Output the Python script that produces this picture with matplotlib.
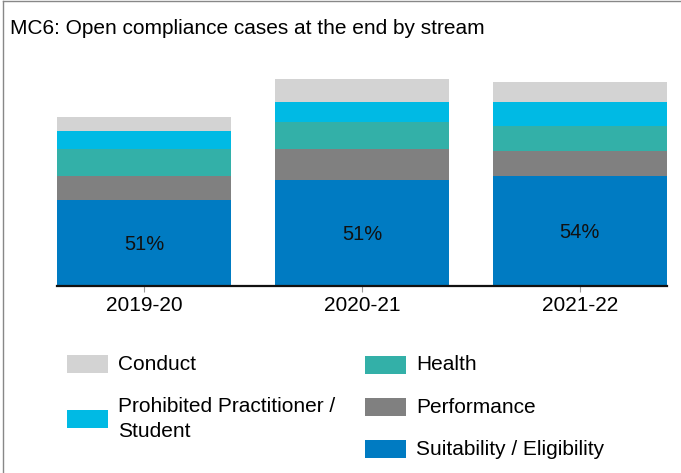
import matplotlib
matplotlib.use("Agg")
import matplotlib.pyplot as plt
from matplotlib.patches import Rectangle
from matplotlib.lines import Line2D
import numpy as np

plt.rcParams['font.family'] = ['Liberation Sans', 'DejaVu Sans']

years = ['2019-20', '2020-21', '2021-22']
suitability = [86, 106, 110]
performance = [24, 31, 25]
health = [27, 27, 25]
prohibited = [18, 20, 24]
conduct = [14, 23, 20]

streams = ['Suitability / Eligibility', 'Performance', 'Health',
           'Prohibited Practitioner /\nStudent', 'Conduct']
colours = ['#007bc2', '#808080', '#33b0a8', '#00bae4', '#d3d3d3']

W, H = 681, 473
fig = plt.figure(figsize=(W / 100, H / 100), dpi=100)
ax = fig.add_axes([57 / W, 1 - 286 / H, 610 / W, 226 / H])

x = np.arange(len(years))
bottom = np.zeros(len(years))
for vals, c in zip([suitability, performance, health, prohibited, conduct], colours):
    ax.bar(x, vals, width=0.8, bottom=bottom, color=c, linewidth=0)
    bottom += np.array(vals)

# share of suitability cases written in the blue block
totals = bottom
for i in x:
    pct = round(100 * suitability[i] / totals[i])
    ax.text(i, suitability[i] / 2 - 1, f'{pct}%', ha='center', va='center',
            fontsize=14.5, color='#111111')

ax.set_xlim(-0.4, 2.4)
ax.set_ylim(0, 226)
ax.set_xticks(x)
ax.set_xticklabels(years, fontsize=15)
ax.tick_params(axis='x', length=4, color='#999999', pad=3)
ax.set_yticks([])
for s in ['left', 'right', 'top']:
    ax.spines[s].set_visible(False)
ax.spines['bottom'].set_linewidth(1.6)
ax.spines['bottom'].set_color('#111111')

fig.text(10 / W, 1 - 29 / H, 'MC6: Open compliance cases at the end by stream',
         fontsize=15, va='center', ha='left')

# legend laid out in two columns
legend_items = [
    ('Conduct', '#d3d3d3', 66.7, 364),
    ('Prohibited Practitioner /\nStudent', '#00bae4', 66.7, 419),
    ('Health', '#33b0a8', 365, 365),
    ('Performance', '#808080', 365, 407),
    ('Suitability / Eligibility', '#007bc2', 365, 449),
]
for label, c, px, py in legend_items:
    fig.add_artist(Rectangle((px / W, 1 - (py + 9) / H), 41 / W, 18 / H,
                             transform=fig.transFigure, color=c, linewidth=0))
    fig.text((px + 51.5) / W, 1 - py / H, label, fontsize=15, va='center',
             ha='left', linespacing=1.4)

# frame edges
fig.add_artist(Line2D([2.5 / W, 2.5 / W], [0, 1 - 1.5 / H],
                      transform=fig.transFigure, color='#888888', lw=1))
fig.add_artist(Line2D([2.5 / W, 1], [1 - 1.5 / H, 1 - 1.5 / H],
                      transform=fig.transFigure, color='#888888', lw=1))

fig.savefig('out.png', dpi=100)
